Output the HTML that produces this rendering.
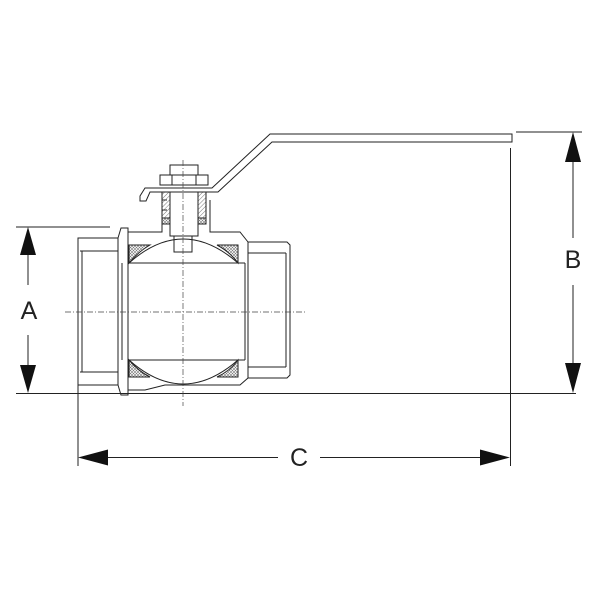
<!DOCTYPE html>
<html><head><meta charset="utf-8"><style>body{margin:0;background:#fff}svg{display:block}</style></head>
<body>
<svg width="600" height="600" viewBox="0 0 600 600" xmlns="http://www.w3.org/2000/svg">
<defs>
<pattern id="h" width="3" height="3" patternUnits="userSpaceOnUse" patternTransform="rotate(45)"><line x1="0" y1="0" x2="0" y2="3" stroke="#555" stroke-width="0.8"/></pattern>
<pattern id="x" width="3" height="3" patternUnits="userSpaceOnUse"><path d="M0 0L3 3M3 0L0 3" stroke="#777" stroke-width="0.6"/></pattern>
</defs>
<g stroke="#222" stroke-width="1" fill="none">
<!-- dimension lines -->
<line x1="16" y1="227" x2="110" y2="227"/>
<line x1="16" y1="393.5" x2="576" y2="393.5"/>
<line x1="516" y1="132" x2="582" y2="132"/>
<line x1="78" y1="380" x2="78" y2="466"/>
<line x1="510.5" y1="148" x2="510.5" y2="466"/>
<line x1="28" y1="250" x2="28" y2="285"/>
<line x1="28" y1="335" x2="28" y2="368"/>
<line x1="573" y1="155" x2="573" y2="238"/>
<line x1="573" y1="285" x2="573" y2="365"/>
<line x1="100" y1="457.5" x2="278" y2="457.5"/>
<line x1="320" y1="457.5" x2="488" y2="457.5"/>
<!-- left end -->
<path d="M78 238H118V385H78Z"/>
<path d="M80 251H118M80 372H118M82 251V372"/>
<!-- flanges/body -->
<path d="M118 238L121 228H128V395H121L118 385"/>
<path d="M128 232H162V210H167M128 390H145L165 385H240L248 378"/>
<path d="M210 210V232H240L248 242"/>
<path d="M162 210V200H167M210 200V210"/>
<!-- right end -->
<path d="M248 242H287L290 245V375L287 378H248Z"/>
<path d="M248 253H286M248 367H286M286 253V367"/>
<!-- body inner -->
<path d="M128 263H245M128 360H245M122 263V360M245 263V360"/>
<!-- seats -->
<path d="M129 245H150Q138 252 129 263Z" fill="url(#x)"/>
<path d="M238 245H217Q230 252 238 263Z" fill="url(#x)"/>
<path d="M129 360Q138 371 150 377H129Z" fill="url(#x)"/>
<path d="M238 360Q230 371 217 377H238Z" fill="url(#x)"/>
<path d="M129 263Q183 215 238 263M129 360Q183 408 238 360"/>
<!-- stem -->
<path d="M170 192H198V236H170Z" fill="#fff"/>
<path d="M174 236H192V252H174Z"/>
<path d="M162 192H170V218H162Z" fill="url(#h)"/>
<path d="M198 192H206V218H198Z" fill="url(#h)"/>
<path d="M162 218H170V224H162ZM198 218H206V224H198Z" fill="url(#x)"/>
<!-- nut -->
<path d="M160 175H208V185H160Z"/>
<path d="M170 165H198V175H170Z"/>
<path d="M172 175V185M196 175V185"/>
<!-- handle -->
<path d="M140 201V196L145 188H212L270 134H512V142H272L218 192H150L146 201Z"/>
</g>
<!-- centerlines -->
<g stroke="#444" stroke-width="0.7" stroke-dasharray="6 2 1 2" fill="none">
<line x1="65" y1="312" x2="305" y2="312"/>
<line x1="183" y1="160" x2="183" y2="406"/>
</g>
<!-- arrowheads -->
<g fill="#111">
<polygon points="28,227 20,255 36,255"/>
<polygon points="28,393 20,365 36,365"/>
<polygon points="573,132 565,162 581,162"/>
<polygon points="573,393 565,363 581,363"/>
<polygon points="78,457.5 108,449.5 108,465.5"/>
<polygon points="510,457.5 480,449.5 480,465.5"/>
</g>
<g font-family="Liberation Sans, sans-serif" font-size="25" fill="#222" text-anchor="middle">
<text x="29" y="319">A</text>
<text x="573" y="268">B</text>
<text x="299" y="466">C</text>
</g>
</svg>
</body></html>
